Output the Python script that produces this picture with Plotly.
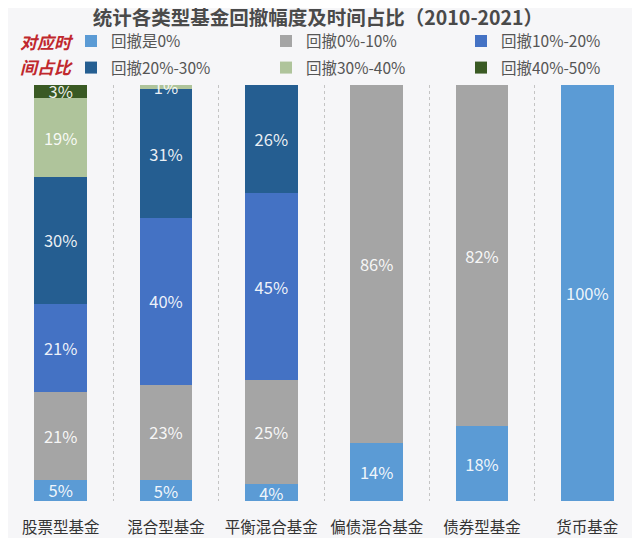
import plotly.graph_objects as go

categories = ["股票型基金", "混合型基金", "平衡混合基金", "偏债混合基金", "债券型基金", "货币基金"]
series_names = ["回撤是0%", "回撤0%-10%", "回撤10%-20%", "回撤20%-30%", "回撤30%-40%", "回撤40%-50%"]
dd_0 = [5, 5, 4, 14, 18, 100]
dd_0_10 = [21, 23, 25, 86, 82, 0]
dd_10_20 = [21, 40, 45, 0, 0, 0]
dd_20_30 = [30, 31, 26, 0, 0, 0]
dd_30_40 = [19, 1, 0, 0, 0, 0]
dd_40_50 = [3, 0, 0, 0, 0, 0]
series_values = [dd_0, dd_0_10, dd_10_20, dd_20_30, dd_30_40, dd_40_50]
colors = ["#5B9BD5", "#A5A5A5", "#4472C4", "#255E91", "#AFC49B", "#3A5A24"]

FONT = "Noto Sans CJK SC"
fig = go.Figure()
for i, (name, vals, col) in enumerate(zip(series_names, series_values, colors)):
    fig.add_trace(go.Bar(
        x=categories, y=vals, name=name,
        marker=dict(color=col, line=dict(width=0)),
        text=[f"{v}%" if v else "" for v in vals],
        textposition="inside", insidetextanchor="middle",
        textfont=dict(family=FONT, size=16.5, color="rgba(255,255,255,0.92)"),
        legend="legend" if i < 3 else "legend2",
        hoverinfo="skip",
    ))

# page body has an 8px margin: figure origin sits at screen (8, 8)
OFF = 8
W, H = 640 - OFF, 538 - OFF
plot_left, plot_right = 8, 640          # screen px
plot_top, plot_bottom = 85, 501         # screen px
pw = plot_right - plot_left
ph = plot_bottom - plot_top
def px(xs):
    return (xs - plot_left) / pw
def py(ys):
    return (plot_bottom - ys) / ph

legend_common = dict(
    orientation="h", xanchor="left", yanchor="middle",
    x=px(71), entrywidth=150, entrywidthmode="pixels",
    font=dict(family=FONT, size=15.5, color="#555555"),
    bgcolor="rgba(0,0,0,0)", itemclick=False, itemdoubleclick=False,
    traceorder="normal",
)

fig.update_layout(
    width=W, height=H,
    margin=dict(l=plot_left - OFF, r=640 - plot_right, t=plot_top - OFF,
                b=538 - plot_bottom, autoexpand=False),
    paper_bgcolor="#F6F6F8", plot_bgcolor="#F6F6F8",
    barmode="stack", barnorm="percent", bargap=0.5,
    title=dict(text="<b>统计各类型基金回撤幅度及时间占比（2010-2021）</b>",
               x=px(318), xanchor="center", xref="paper",
               y=1 - (18.5 - OFF) / H, yanchor="middle",
               font=dict(family=FONT, size=19.5, color="#4A4A4A")),
    legend=dict(legend_common, y=py(41.5)),
    legend2=dict(legend_common, y=py(68)),
    uniformtext=dict(minsize=16.5, mode="show"),
    font=dict(family=FONT),
    xaxis=dict(type="category", tickson="boundaries", showgrid=True,
               gridcolor="#C4C4C4", griddash="dot", gridwidth=1,
               ticks="", ticklabelstandoff=15, showline=False, zeroline=False,
               tickangle=0, automargin=False,
               tickfont=dict(family=FONT, size=15.5, color="#333333")),
    yaxis=dict(range=[0, 100], showgrid=False, showticklabels=False,
               zeroline=False, showline=False, ticks="", automargin=False),
    annotations=[
        dict(text="<b><i>对应时</i></b>", xref="paper", yref="paper",
             x=px(46.5), y=py(41.5), xanchor="center", yanchor="middle",
             showarrow=False, font=dict(family=FONT, size=17, color="#C0282D")),
        dict(text="<b><i>间占比</i></b>", xref="paper", yref="paper",
             x=px(46.5), y=py(67), xanchor="center", yanchor="middle",
             showarrow=False, font=dict(family=FONT, size=17, color="#C0282D")),
    ],
)

fig.write_html("out.html")
